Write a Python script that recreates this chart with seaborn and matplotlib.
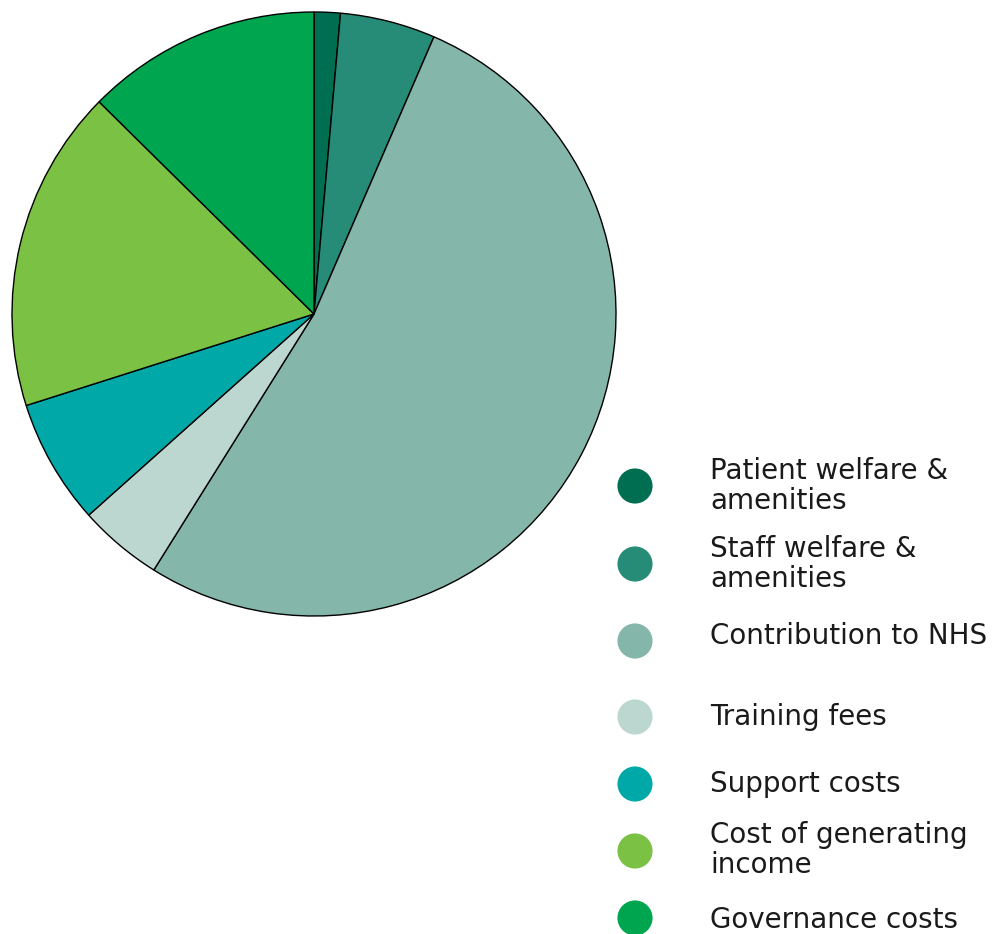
import matplotlib
matplotlib.use("Agg")
import matplotlib.pyplot as plt
import seaborn as sns
import pandas as pd

categories = ["Patient welfare &\namenities", "Staff welfare &\namenities", "Contribution to NHS",
              "Training fees", "Support costs", "Cost of generating\nincome", "Governance costs"]
values = [1.4, 5.1, 52.4, 4.5, 6.7, 17.3, 12.6]
colors = ["#006f51", "#268c77", "#84b6a9", "#bcd7cf", "#00a9a7", "#7bc143", "#00a64f"]

sns.set_theme(style="white")
plt.rcParams['font.family'] = ['DejaVu Sans']

W, H = 993, 934
fig = plt.figure(figsize=(W / 100, H / 100), dpi=100)
ax = fig.add_axes([0, 0, 1, 1])

ax.pie(values, colors=colors, startangle=90, counterclock=False,
       center=(314, H - 314), radius=302, frame=True,
       wedgeprops=dict(edgecolor="black", linewidth=1.0))

legend_y = [486, 564, 641, 717, 784, 851, 918]
df = pd.DataFrame({"x": [635] * len(categories), "y": [H - y for y in legend_y], "cat": categories})
sns.scatterplot(data=df, x="x", y="y", hue="cat", palette=colors, s=640, linewidth=0,
                legend=False, ax=ax, clip_on=False)
text_y = [486, 564, 636, 717, 784, 850, 920]
for cat, y in zip(categories, text_y):
    ax.text(710, H - y, cat, fontsize=20, color="#1a1a1a", va="center", ha="left",
            linespacing=1.12)

ax.set_xlim(0, W)
ax.set_ylim(0, H)
ax.set_aspect("auto")
ax.axis("off")
fig.savefig("out.png", dpi=100)
